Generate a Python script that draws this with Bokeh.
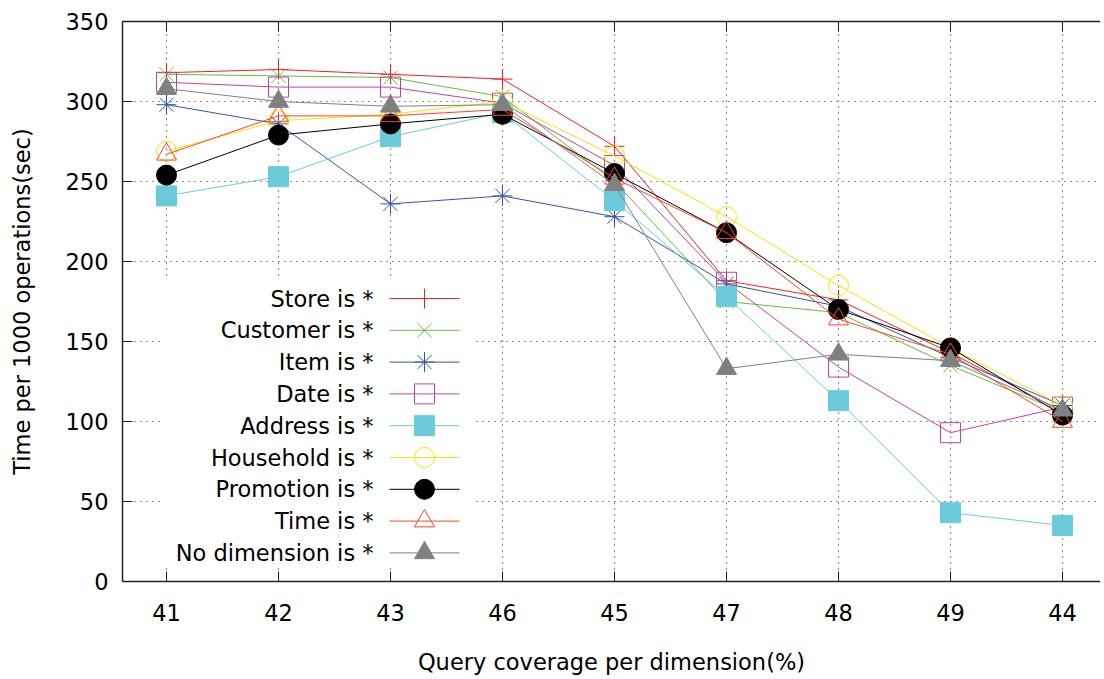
from bokeh.plotting import figure
from bokeh.models import Range1d, FixedTicker, LinearAxis
from bokeh.core.properties import value
from bokeh.embed import file_html
from bokeh.resources import INLINE

categories = ["41", "42", "43", "46", "45", "47", "48", "49", "44"]
store = [318, 320, 317, 314, 272, 188, 176, 143, 106]
customer = [317, 316, 315, 303, 250, 175, 168, 135, 106]
item = [298, 286, 236, 241, 228, 186, 172, 140, 110]
date = [312, 309, 309, 299, 260, 187, 134, 93, 109]
address = [241, 253, 278, 293, 238, 178, 113, 43, 35]
household = [269, 288, 292, 300, 266, 228, 185, 146, 110]
promotion = [254, 279, 286, 292, 255, 218, 170, 146, 104]
time_ = [267, 291, 291, 295, 252, 218, 164, 142, 100]
nodim = [308, 300, 297, 298, 248, 133, 142, 138, 107]
y_ticks = [0, 50, 100, 150, 200, 250, 300, 350]

FONT = "DejaVu Sans"
FS = "22.5px"

series = [
    ("Store is *", store, "#ee2222", "cross", None),
    ("Customer is *", customer, "#66bb44", "x", None),
    ("Item is *", item, "#3355aa", "asterisk", None),
    ("Date is *", date, "#bb44aa", "square", None),
    ("Address is *", address, "#6ccbdb", "square", "#6ccbdb"),
    ("Household is *", household, "#f5e400", "circle", None),
    ("Promotion is *", promotion, "#000000", "circle", "#000000"),
    ("Time is *", time_, "#ff4422", "triangle", None),
    ("No dimension is *", nodim, "#808080", "triangle", "#808080"),
]

W, H = 1100, 679
BL, BR, BT, BB = 122, 0, 21, 98
FW, FH = W - BL - BR, H - BT - BB

p = figure(width=W, height=H, output_backend="svg", toolbar_location=None,
           x_range=Range1d(-0.3929, 8.3393), y_range=Range1d(0, 350),
           min_border_left=BL, min_border_right=BR, min_border_top=BT,
           min_border_bottom=BB, outline_line_color=None,
           background_fill_color="white", border_fill_color="white")
p.extra_x_ranges = {"px": Range1d(0, FW)}
p.extra_y_ranges = {"px": Range1d(0, FH)}

idx = list(range(len(categories)))

for ax in (p.xaxis[0], p.yaxis[0]):
    ax.axis_line_color = "#222222"
    ax.axis_line_width = 1.5
    ax.major_tick_in = 10
    ax.major_tick_out = 0
    ax.minor_tick_line_color = None
    ax.major_tick_line_color = "#222222"
    ax.major_label_text_font = FONT
    ax.major_label_text_font_size = FS
    ax.major_label_text_color = "black"
    ax.axis_label_text_font = FONT
    ax.axis_label_text_font_size = FS
    ax.axis_label_text_font_style = "normal"
    ax.axis_label_text_color = "black"

p.xaxis.ticker = FixedTicker(ticks=idx)
p.xaxis.major_label_overrides = {i: c for i, c in enumerate(categories)}
p.xaxis.axis_label = "Query coverage per dimension(%)"
p.xaxis.major_label_standoff = 22
p.xaxis.axis_label_standoff = 25
p.yaxis.ticker = FixedTicker(ticks=y_ticks)
p.yaxis.axis_label = "Time per 1000 operations(sec)"
p.yaxis.major_label_standoff = 14
p.yaxis.axis_label_standoff = 28

top = LinearAxis(ticker=FixedTicker(ticks=idx), axis_line_color="#222222",
                 axis_line_width=1.5, major_tick_in=10, major_tick_out=0,
                 minor_tick_line_color=None, major_tick_line_color="#222222",
                 major_label_text_font_size="0px",
                 major_label_overrides={i: "" for i in idx})
p.add_layout(top, "above")

p.xgrid.ticker = FixedTicker(ticks=idx)
p.ygrid.ticker = FixedTicker(ticks=y_ticks[1:-1])
for g in (p.xgrid[0], p.ygrid[0]):
    g.grid_line_color = "black"
    g.grid_line_dash = "1 5"
    g.grid_line_alpha = 0.85
    g.grid_line_width = 1.2

# legend box (opaque, covers grid)
p.quad(left=[38], right=[352], bottom=[14], top=[302], x_range_name="px",
       y_range_name="px", fill_color="white", line_color=None)

for name, vals, color, marker, fill in series:
    p.line(idx, vals, line_color=color, line_width=1)
    p.scatter(idx, vals, marker=marker, size=20, line_color=color,
              fill_color=fill, line_width=1)

# legend entries (label right-aligned, sample to the right)
for i, (name, vals, color, marker, fill) in enumerate(series):
    yy = FH - (298 - 21 + 31.8 * i)
    p.segment(x0=[267], x1=[337], y0=[yy], y1=[yy], x_range_name="px",
              y_range_name="px", line_color=color, line_width=1)
    p.scatter([302], [yy], marker=marker, size=20, line_color=color,
              fill_color=fill, line_width=1, x_range_name="px",
              y_range_name="px")
    p.text([251], [yy], text=[name], text_align="right",
           text_baseline="middle", text_font=value(FONT),
           text_font_size=FS, text_color="black",
           x_range_name="px", y_range_name="px")

open("out.html", "w").write(file_html(p, INLINE))
